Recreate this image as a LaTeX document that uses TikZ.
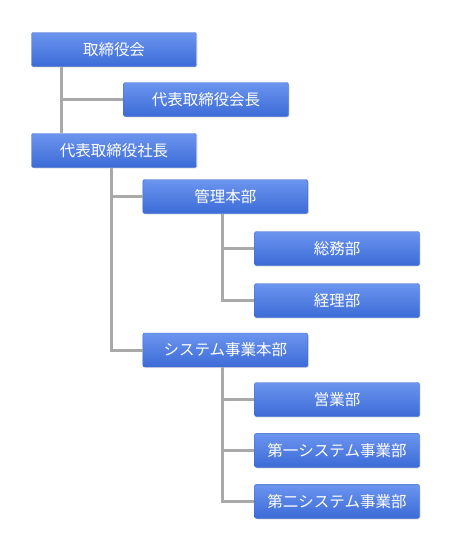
\documentclass[tikz,border=0pt]{standalone}
\usepackage{fontspec}
\setmainfont{Noto Sans CJK JP}
\usetikzlibrary{shadows}
\definecolor{boxtop}{HTML}{6C95EF}
\definecolor{boxbottom}{HTML}{3C6BD7}
\definecolor{boxline}{HTML}{3D67CB}
\definecolor{linkgray}{HTML}{A9A9A9}

\begin{document}
\begin{tikzpicture}[x=1pt,y=-1pt]
    \tikzstyle{post}=[rectangle,draw=boxline,rounded corners=2pt,top color=boxtop,bottom color=boxbottom,
      minimum width=165pt,minimum height=34pt,inner sep=0pt,text=white,font=\fontsize{15.5pt}{18pt}\selectfont,
      drop shadow={opacity=0.22,shadow xshift=1pt,shadow yshift=-1.2pt}]
    \tikzstyle{link}=[draw=linkgray,line width=3pt]
    \useasboundingbox (0,0) rectangle (450,550);
    \node[post] (board) at (114,49.5) {取締役会};
    \node[post] (chair) at (206,99.5) {代表取締役会長};
    \node[post] (pres) at (114,150.5) {代表取締役社長};
    \node[post] (admin) at (225.3,196.5) {管理本部};
    \node[post] (general) at (337,248.5) {総務部};
    \node[post] (account) at (337,300.5) {経理部};
    \node[post] (sysdiv) at (225.3,350) {システム事業本部};
    \node[post] (sales) at (337,399.5) {営業部};
    \node[post] (sysone) at (337,450.3) {第一システム事業部};
    \node[post] (systwo) at (337,501.3) {第二システム事業部};
    % connectors
    \draw[link] ([xshift=30pt]board.south west) -- ([xshift=30pt]pres.north west);
    \draw[link] ([xshift=30pt]board.south west) |- (chair.west);
    \draw[link] ([xshift=80pt]pres.south west) |- (admin.west);
    \draw[link] ([xshift=80pt]pres.south west) |- (sysdiv.west);
    \draw[link] ([xshift=80pt]admin.south west) |- (general.west);
    \draw[link] ([xshift=80pt]admin.south west) |- (account.west);
    \draw[link] ([xshift=80pt]sysdiv.south west) |- (sales.west);
    \draw[link] ([xshift=80pt]sysdiv.south west) |- (sysone.west);
    \draw[link] ([xshift=80pt]sysdiv.south west) |- (systwo.west);
\end{tikzpicture}
\end{document}
